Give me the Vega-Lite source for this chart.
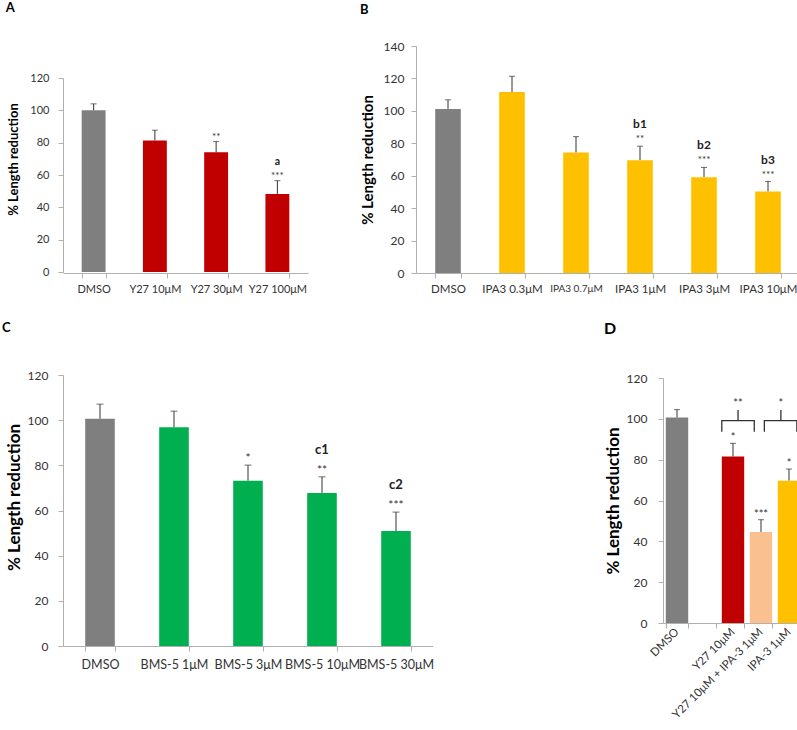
{
  "$schema": "https://vega.github.io/schema/vega-lite/v6.json",
  "background": "white",
  "padding": {"left": 2, "top": 2, "right": 0, "bottom": 0},
  "config": {
    "font": "Lato",
    "view": {"stroke": null},
    "axis": {"domainColor": "#b0b0b0", "tickColor": "#b0b0b0", "tickSize": 5, "labelColor": "#333333", "grid": false, "titleColor": "#000000", "titleFontWeight": "bold", "labelOverlap": false},
    "title": {"anchor": "start", "frame": "bounds", "fontWeight": "bold", "color": "#000000"}
  },
  "datasets": {
    "A": [
      {"g": "DMSO", "t": "DMSO", "mean": 100, "err": 104, "stars": "", "letter": ""},
      {"g": "Y27 10μM", "t": "Y27", "mean": 81.3, "err": 87.7, "stars": "", "letter": ""},
      {"g": "Y27 30μM", "t": "Y27", "mean": 74, "err": 80.7, "stars": "**", "letter": ""},
      {"g": "Y27 100μM", "t": "Y27", "mean": 48.3, "err": 56.5, "stars": "***", "letter": "a"}
    ],
    "B": [
      {"g": "DMSO", "t": "DMSO", "mean": 101.2, "err": 106.8, "stars": "", "letter": ""},
      {"g": "IPA3 0.3μM", "t": "IPA3", "mean": 111.7, "err": 121.3, "stars": "", "letter": ""},
      {"g": "IPA3 0.7μM", "t": "IPA3", "mean": 74.3, "err": 84.1, "stars": "", "letter": ""},
      {"g": "IPA3 1μM", "t": "IPA3", "mean": 69.6, "err": 78.2, "stars": "**", "letter": "b1"},
      {"g": "IPA3 3μM", "t": "IPA3", "mean": 59.1, "err": 65.1, "stars": "***", "letter": "b2"},
      {"g": "IPA3 10μM", "t": "IPA3", "mean": 50.2, "err": 56.4, "stars": "***", "letter": "b3"}
    ],
    "C": [
      {"g": "DMSO", "t": "DMSO", "mean": 100.6, "err": 107.1, "stars": "", "letter": ""},
      {"g": "BMS-5 1μM", "t": "BMS", "mean": 96.9, "err": 104, "stars": "", "letter": ""},
      {"g": "BMS-5 3μM", "t": "BMS", "mean": 73.2, "err": 80.1, "stars": "*", "letter": ""},
      {"g": "BMS-5 10μM", "t": "BMS", "mean": 67.8, "err": 74.9, "stars": "**", "letter": "c1"},
      {"g": "BMS-5 30μM", "t": "BMS", "mean": 50.9, "err": 59.3, "stars": "***", "letter": "c2"}
    ],
    "D": [
      {"g": "DMSO", "t": "DMSO", "mean": 100.6, "err": 104.5, "stars": ""},
      {"g": "Y27 10μM", "t": "Y27", "mean": 81.6, "err": 88, "stars": "*"},
      {"g": "Y27 10μM + IPA-3 1μM", "t": "combo", "mean": 44.6, "err": 50.6, "stars": "***"},
      {"g": "IPA-3 1μM", "t": "IPA3", "mean": 69.7, "err": 75.4, "stars": "*"}
    ],
    "braces": [
      {"b": 1, "k": 1, "u": 2.10, "v": 93.7},
      {"b": 1, "k": 2, "u": 2.10, "v": 99.1},
      {"b": 1, "k": 3, "u": 2.68, "v": 99.1},
      {"b": 1, "k": 4, "u": 2.68, "v": 104.3},
      {"b": 1, "k": 5, "u": 2.68, "v": 99.1},
      {"b": 1, "k": 6, "u": 3.26, "v": 99.1},
      {"b": 1, "k": 7, "u": 3.26, "v": 93.7},
      {"b": 2, "k": 1, "u": 3.62, "v": 93.7},
      {"b": 2, "k": 2, "u": 3.62, "v": 99.1},
      {"b": 2, "k": 3, "u": 4.21, "v": 99.1},
      {"b": 2, "k": 4, "u": 4.21, "v": 104.3},
      {"b": 2, "k": 5, "u": 4.21, "v": 99.1},
      {"b": 2, "k": 6, "u": 4.78, "v": 99.1},
      {"b": 2, "k": 7, "u": 4.78, "v": 93.7}
    ],
    "braceLabels": [
      {"u": 2.68, "v": 104.3, "label": "**"},
      {"u": 4.21, "v": 104.3, "label": "*"}
    ]
  },
  "spacing": 26,
  "vconcat": [
    {
      "spacing": 52,
      "hconcat": [
        {
          "title": {"text": "A", "fontSize": 13, "offset": 31, "dx": -2},
          "width": 245,
          "height": 227,
          "data": {"name": "A"},
          "encoding": {
            "x": {"field": "g", "type": "nominal", "sort": null,
              "scale": {"domain": ["DMSO", "Y27 10μM", "Y27 30μM", "Y27 100μM"], "paddingInner": 0.61, "paddingOuter": 0.305},
              "axis": {"title": null, "labelAngle": 0, "tickBand": "extent", "labelFontSize": 11, "labelPadding": 5}},
            "y": {"field": "err", "type": "quantitative",
              "scale": {"domain": [0, 120], "range": [226, 32], "nice": false, "zero": true},
              "axis": {"title": "% Length reduction", "values": [0, 20, 40, 60, 80, 100, 120], "labelFontSize": 11, "labelPadding": 9, "titleFontSize": 13, "titlePadding": 9, "titleY": 113}}
          },
          "layer": [
            {"mark": {"type": "rule", "color": "#333333", "strokeWidth": 1}, "encoding": {"y2": {"field": "mean"}}},
            {"mark": {"type": "tick", "color": "#333333", "thickness": 1, "size": 6}},
            {"mark": {"type": "bar"},
              "encoding": {
                "y": {"field": "mean", "type": "quantitative",
                  "scale": {"domain": [0, 120], "range": [226, 32], "nice": false, "zero": true},
                  "axis": {"title": "% Length reduction", "values": [0, 20, 40, 60, 80, 100, 120], "labelFontSize": 11, "labelPadding": 9, "titleFontSize": 13, "titlePadding": 9, "titleY": 113}},
                "color": {"field": "t", "type": "nominal", "legend": null,
                  "scale": {"domain": ["DMSO", "Y27", "IPA3", "BMS", "combo"], "range": ["#7f7f7f", "#c00000", "#ffc000", "#00b050", "#fac090"]}}
              }},
            {"mark": {"type": "text", "fontSize": 10, "dy": -2, "baseline": "alphabetic", "color": "#333333"}, "encoding": {"text": {"field": "stars"}}},
            {"mark": {"type": "text", "fontSize": 10.5, "fontWeight": "bold", "dy": -16, "baseline": "alphabetic", "color": "#222222"}, "encoding": {"text": {"field": "letter"}}}
          ]
        },
        {
          "title": {"text": "B", "fontSize": 13, "offset": 23},
          "width": 384,
          "height": 227,
          "data": {"name": "B"},
          "encoding": {
            "x": {"field": "g", "type": "nominal", "sort": null,
              "scale": {"domain": ["DMSO", "IPA3 0.3μM", "IPA3 0.7μM", "IPA3 1μM", "IPA3 3μM", "IPA3 10μM"], "paddingInner": 0.6, "paddingOuter": 0.3},
              "axis": {"title": null, "labelAngle": 0, "tickBand": "extent", "labelFontSize": {"condition": {"test": "datum.value == 'IPA3 0.7μM'", "value": 10}, "value": 11.5}, "labelPadding": 5}},
            "y": {"field": "err", "type": "quantitative",
              "scale": {"domain": [0, 140], "nice": false, "zero": true},
              "axis": {"title": "% Length reduction", "values": [0, 20, 40, 60, 80, 100, 120, 140], "labelFontSize": 12, "labelPadding": 7, "titleFontSize": 15, "titlePadding": 8}}
          },
          "layer": [
            {"mark": {"type": "rule", "color": "#333333", "strokeWidth": 1}, "encoding": {"y2": {"field": "mean"}}},
            {"mark": {"type": "tick", "color": "#333333", "thickness": 1, "size": 6}},
            {"mark": {"type": "bar"},
              "encoding": {
                "y": {"field": "mean", "type": "quantitative",
                  "scale": {"domain": [0, 140], "nice": false, "zero": true},
                  "axis": {"title": "% Length reduction", "values": [0, 20, 40, 60, 80, 100, 120, 140], "labelFontSize": 12, "labelPadding": 7, "titleFontSize": 15, "titlePadding": 8}},
                "color": {"field": "t", "type": "nominal", "legend": null,
                  "scale": {"domain": ["DMSO", "Y27", "IPA3", "BMS", "combo"], "range": ["#7f7f7f", "#c00000", "#ffc000", "#00b050", "#fac090"]}}
              }},
            {"mark": {"type": "text", "fontSize": 10, "dy": -4, "baseline": "alphabetic", "color": "#333333"}, "encoding": {"text": {"field": "stars"}}},
            {"mark": {"type": "text", "fontSize": 12, "fontWeight": "bold", "dy": -18, "baseline": "alphabetic", "color": "#222222"}, "encoding": {"text": {"field": "letter"}}}
          ]
        }
      ]
    },
    {
      "spacing": 170,
      "hconcat": [
        {
          "title": {"text": "C", "fontSize": 13, "offset": 34, "dx": -3},
          "width": 370,
          "height": 271,
          "data": {"name": "C"},
          "encoding": {
            "x": {"field": "g", "type": "nominal", "sort": null,
              "scale": {"domain": ["DMSO", "BMS-5 1μM", "BMS-5 3μM", "BMS-5 10μM", "BMS-5 30μM"], "paddingInner": 0.6, "paddingOuter": 0.3},
              "axis": {"title": null, "labelAngle": 0, "tickBand": "extent", "labelFontSize": 12.5, "labelPadding": 7}},
            "y": {"field": "err", "type": "quantitative",
              "scale": {"domain": [0, 120], "nice": false, "zero": true},
              "axis": {"title": "% Length reduction", "values": [0, 20, 40, 60, 80, 100, 120], "labelFontSize": 12, "labelPadding": 10, "titleFontSize": 17, "titlePadding": 4, "titleY": 122}}
          },
          "layer": [
            {"mark": {"type": "rule", "color": "#333333", "strokeWidth": 1}, "encoding": {"y2": {"field": "mean"}}},
            {"mark": {"type": "tick", "color": "#333333", "thickness": 1, "size": 7}},
            {"mark": {"type": "bar"},
              "encoding": {
                "y": {"field": "mean", "type": "quantitative",
                  "scale": {"domain": [0, 120], "nice": false, "zero": true},
                  "axis": {"title": "% Length reduction", "values": [0, 20, 40, 60, 80, 100, 120], "labelFontSize": 12, "labelPadding": 10, "titleFontSize": 17, "titlePadding": 4, "titleY": 122}},
                "color": {"field": "t", "type": "nominal", "legend": null,
                  "scale": {"domain": ["DMSO", "Y27", "IPA3", "BMS", "combo"], "range": ["#7f7f7f", "#c00000", "#ffc000", "#00b050", "#fac090"]}}
              }},
            {"mark": {"type": "text", "fontSize": 12, "dy": -3, "baseline": "alphabetic", "color": "#333333"}, "encoding": {"text": {"field": "stars"}}},
            {"mark": {"type": "text", "fontSize": 13, "fontWeight": "bold", "dy": -23, "baseline": "alphabetic", "color": "#222222"}, "encoding": {"text": {"field": "letter"}}}
          ]
        },
        {
          "title": {"text": "D", "fontSize": 16, "offset": 35},
          "width": 140,
          "height": 248,
          "resolve": {"scale": {"x": "independent"}},
          "layer": [
            {
              "data": {"name": "D"},
              "encoding": {
                "x": {"field": "g", "type": "nominal", "sort": null,
                  "scale": {"domain": ["DMSO", " ", "Y27 10μM", "Y27 10μM + IPA-3 1μM", "IPA-3 1μM"], "paddingInner": 0.2, "paddingOuter": 0.1},
                  "axis": {"title": null, "labelAngle": -45, "labelAlign": "right", "labelBaseline": "middle", "tickBand": "extent", "labelFontSize": 11.5, "labelPadding": 2}},
                "y": {"field": "err", "type": "quantitative",
                  "scale": {"domain": [0, 120], "range": [248, 3], "nice": false, "zero": true},
                  "axis": {"title": "% Length reduction", "values": [0, 20, 40, 60, 80, 100, 120], "labelFontSize": 12, "labelPadding": 11, "titleFontSize": 17, "titlePadding": 4}}
              },
              "layer": [
                {"mark": {"type": "rule", "color": "#333333", "strokeWidth": 1}, "encoding": {"y2": {"field": "mean"}}},
                {"mark": {"type": "tick", "color": "#333333", "thickness": 1, "size": 6}},
                {"mark": {"type": "bar"},
                  "encoding": {
                    "y": {"field": "mean", "type": "quantitative",
                      "scale": {"domain": [0, 120], "range": [248, 3], "nice": false, "zero": true},
                      "axis": {"title": "% Length reduction", "values": [0, 20, 40, 60, 80, 100, 120], "labelFontSize": 12, "labelPadding": 11, "titleFontSize": 17, "titlePadding": 4}},
                    "color": {"field": "t", "type": "nominal", "legend": null,
                      "scale": {"domain": ["DMSO", "Y27", "IPA3", "BMS", "combo"], "range": ["#7f7f7f", "#c00000", "#ffc000", "#00b050", "#fac090"]}}
                  }},
                {"mark": {"type": "text", "fontSize": 11, "dy": -2, "baseline": "alphabetic", "color": "#333333"}, "encoding": {"text": {"field": "stars"}}}
              ]
            },
            {
              "data": {"name": "braces"},
              "mark": {"type": "line", "color": "#333333", "strokeWidth": 1.3},
              "encoding": {
                "x": {"field": "u", "type": "quantitative", "scale": {"domain": [0, 5], "nice": false, "zero": false}, "axis": null},
                "y": {"field": "v", "type": "quantitative",
                  "scale": {"domain": [0, 120], "range": [248, 3], "nice": false, "zero": true},
                  "axis": {"title": "% Length reduction", "values": [0, 20, 40, 60, 80, 100, 120], "labelFontSize": 12, "labelPadding": 11, "titleFontSize": 17, "titlePadding": 4}},
                "detail": {"field": "b", "type": "nominal"},
                "order": {"field": "k", "type": "quantitative"}
              }
            },
            {
              "data": {"name": "braceLabels"},
              "mark": {"type": "text", "fontSize": 11, "dy": -3, "baseline": "alphabetic", "color": "#333333"},
              "encoding": {
                "x": {"field": "u", "type": "quantitative", "scale": {"domain": [0, 5], "nice": false, "zero": false}, "axis": null},
                "y": {"field": "v", "type": "quantitative",
                  "scale": {"domain": [0, 120], "range": [248, 3], "nice": false, "zero": true},
                  "axis": {"title": "% Length reduction", "values": [0, 20, 40, 60, 80, 100, 120], "labelFontSize": 12, "labelPadding": 11, "titleFontSize": 17, "titlePadding": 4}},
                "text": {"field": "label"}
              }
            }
          ]
        }
      ]
    }
  ]
}
